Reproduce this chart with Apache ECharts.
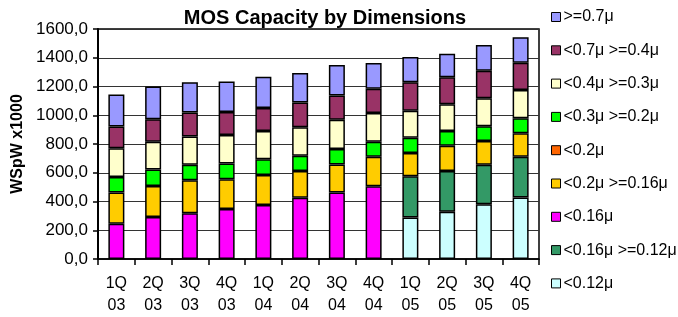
<!DOCTYPE html>
<html>
<head>
<meta charset="utf-8">
<script src="https://cdn.jsdelivr.net/npm/echarts@6/dist/echarts.min.js"></script>
<style>
html, body { margin: 0; padding: 0; background: #fff; }
#MosChart { width: 678px; height: 317px; }
</style>
</head>
<body>
<div id="MosChart"></div>
<script>
// MOS Capacity by Dimensions
var categories = ['1Q\n03', '2Q\n03', '3Q\n03', '4Q\n03', '1Q\n04', '2Q\n04', '3Q\n04', '4Q\n04', '1Q\n05', '2Q\n05', '3Q\n05', '4Q\n05'];

// stack order, bottom to top
var lt012      = [0, 0, 0, 0, 0, 0, 0, 0, 288, 329, 381, 428];
var lt016ge012 = [0, 0, 0, 0, 0, 0, 0, 0, 287, 283, 274, 284];
var lt016      = [246, 292, 319, 347, 375, 426, 462, 506, 0, 0, 0, 0];
var lt02ge016  = [216, 216, 228, 207, 209, 186, 195, 206, 163, 176, 166, 162];
var lt02       = [0, 0, 0, 0, 0, 0, 0, 0, 0, 0, 0, 0];
var lt03ge02   = [108, 115, 108, 110, 110, 107, 109, 104, 105, 102, 103, 105];
var lt04ge03   = [200, 193, 198, 198, 196, 198, 202, 200, 189, 186, 195, 196];
var lt07ge04   = [152, 156, 166, 161, 160, 171, 170, 168, 198, 188, 191, 191];
var ge07       = [223, 228, 211, 212, 217, 206, 212, 180, 175, 164, 178, 177];

var yTicks = [0, 200, 400, 600, 800, 1000, 1200, 1400, 1600];

var seriesDefs = [
    {name: '<0.12μ',          color: '#CCFFFF', data: lt012},
    {name: '<0.16μ >=0.12μ',  color: '#339966', data: lt016ge012},
    {name: '<0.16μ',          color: '#FF00FF', data: lt016},
    {name: '<0.2μ >=0.16μ',   color: '#FFCC00', data: lt02ge016},
    {name: '<0.2μ',           color: '#FF6600', data: lt02},
    {name: '<0.3μ >=0.2μ',    color: '#00FF00', data: lt03ge02},
    {name: '<0.4μ >=0.3μ',    color: '#FFFFCC', data: lt04ge03},
    {name: '<0.7μ >=0.4μ',    color: '#993366', data: lt07ge04},
    {name: '>=0.7μ',          color: '#9999FF', data: ge07}
];

var fontFamily = "'Liberation Sans', Arial, sans-serif";

var dom = document.getElementById("MosChart");
var myChart = echarts.init(dom);
var option = null;
option = {
    animation: false,
    textStyle: { fontFamily: fontFamily },
    title: {
        text: 'MOS Capacity by Dimensions',
        left: 320,
        textAlign: 'center',
        top: 3,
        textStyle: { fontSize: 20, fontWeight: 'bold', color: '#000', fontFamily: fontFamily }
    },
    legend: {
        orient: 'vertical',
        left: 546,
        top: 4,
        itemWidth: 9,
        itemHeight: 9,
        itemGap: 17.3,
        icon: 'rect',
        data: seriesDefs.map(function (s) { return s.name; }).reverse(),
        itemStyle: { borderColor: '#000', borderWidth: 1 },
        textStyle: { fontSize: 16, color: '#000', padding: [0, 0, 0, -2], fontFamily: fontFamily }
    },
    grid: {
        left: 98,
        right: 139,
        top: 29,
        bottom: 56,
        show: true,
        borderColor: '#000',
        borderWidth: 1.5,
        backgroundColor: 'transparent'
    },
    xAxis: {
        type: 'category',
        data: categories,
        axisLine: { show: true, lineStyle: { color: '#000', width: 1.5 } },
        axisTick: { show: true, length: 6, lineStyle: { color: '#000', width: 1.5 } },
        axisLabel: {
            margin: 14,
            fontSize: 16,
            lineHeight: 22,
            color: '#000',
            fontFamily: fontFamily
        }
    },
    yAxis: {
        type: 'value',
        min: yTicks[0],
        max: yTicks[yTicks.length - 1],
        interval: 200,
        name: 'WSpW x1000',
        nameLocation: 'middle',
        nameGap: 64,
        nameTextStyle: { fontSize: 16, fontWeight: 'bold', color: '#000', fontFamily: fontFamily },
        axisLine: { show: true, lineStyle: { color: '#000', width: 2 } },
        axisTick: { show: true, length: 5, lineStyle: { color: '#000', width: 1.5 } },
        splitLine: { show: true, lineStyle: { color: '#333', width: 1 } },
        axisLabel: {
            margin: 10,
            fontSize: 17,
            color: '#000',
            fontFamily: fontFamily,
            formatter: function (v) { return v.toFixed(1).replace('.', ','); }
        }
    },
    series: seriesDefs.map(function (s) {
        return {
            name: s.name,
            type: 'bar',
            stack: 'total',
            barWidth: 16,
            // empty segments are left out, as in the original chart
            data: s.data.map(function (v) { return v === 0 ? '-' : v; }),
            itemStyle: { color: s.color, borderColor: '#000', borderWidth: 1.5 }
        };
    })
};
if (option && typeof option === "object") {
    myChart.setOption(option, true);
    window.onresize = myChart.resize;
}
</script>
</body>
</html>
